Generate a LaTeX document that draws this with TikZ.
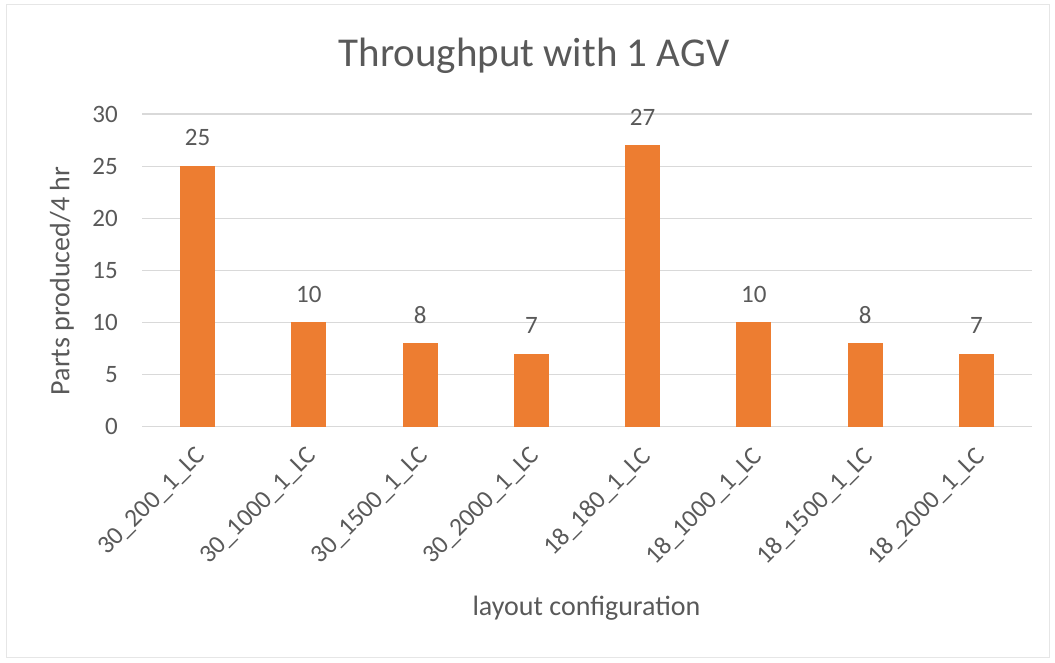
\documentclass[tikz,border=0pt]{standalone}
\usepackage{fontspec}
\setmainfont{Carlito}
\definecolor{barorange}{HTML}{ED7D31}
\definecolor{txtgray}{HTML}{595959}
\definecolor{gridgray}{HTML}{D9D9D9}
\definecolor{framegray}{HTML}{E6E6E6}
\begin{document}
\begin{tikzpicture}[x=1pt,y=-1pt,
  gridline/.style={draw=gridgray,line width=1.3pt},
  barbox/.style={fill=barorange,draw=none,minimum width=35pt,inner sep=0pt,anchor=south},
  ticklab/.style={text=txtgray,font=\fontsize{25}{28}\selectfont,inner sep=0pt},
  vallab/.style={text=txtgray,font=\fontsize{25}{28}\selectfont,inner sep=0pt,anchor=center},
  catlab/.style={text=txtgray,font=\fontsize{25.5}{28}\selectfont,inner sep=0pt,rotate=45,anchor=north east},
  axtitle/.style={text=txtgray,font=\fontsize{28}{32}\selectfont,inner sep=0pt},
  charttitle/.style={text=txtgray,font=\fontsize{41}{46}\selectfont,inner sep=0pt,anchor=base}]
\useasboundingbox (0,0) rectangle (1055,663);
\draw[framegray,line width=1pt] (6,5) rectangle (1049,657);
% gridlines and y tick labels
\foreach \v in {0,5,...,30}{
  \draw[gridline] (142,{426.7-10.42*\v}) -- (1032,{426.7-10.42*\v});
  \node[ticklab,anchor=east] (tick\v) at (118,{426.7-10.42*\v}) {\v};
}
% bars
\foreach \i/\val/\lab in {1/25/30\_200\_1\_LC,2/10/30\_1000\_1\_LC,3/8/30\_1500\_1\_LC,4/7/30\_2000\_1\_LC,5/27/18\_180\_1\_LC,6/10/18\_1000\_1\_LC,7/8/18\_1500\_1\_LC,8/7/18\_2000\_1\_LC}{
  \pgfmathsetmacro{\cx}{142+111.25*(\i-0.5)}
  \node[barbox,minimum height={10.42*\val}] (bar\i) at (\cx,426.7) {};
  \node[vallab] (val\i) at ([yshift=28pt]bar\i.north) {\val};
  \node[catlab] (cat\i) at (\cx-3,445) {\lab};
}
\node[axtitle,rotate=90] (ytitle) at (62,281) {Parts produced/4 hr};
\node[axtitle,anchor=base] (xtitle) at (586.5,615) {layout configuration};
\node[charttitle] (title) at (534,67) {Throughput with 1 AGV};
\end{tikzpicture}
\end{document}
